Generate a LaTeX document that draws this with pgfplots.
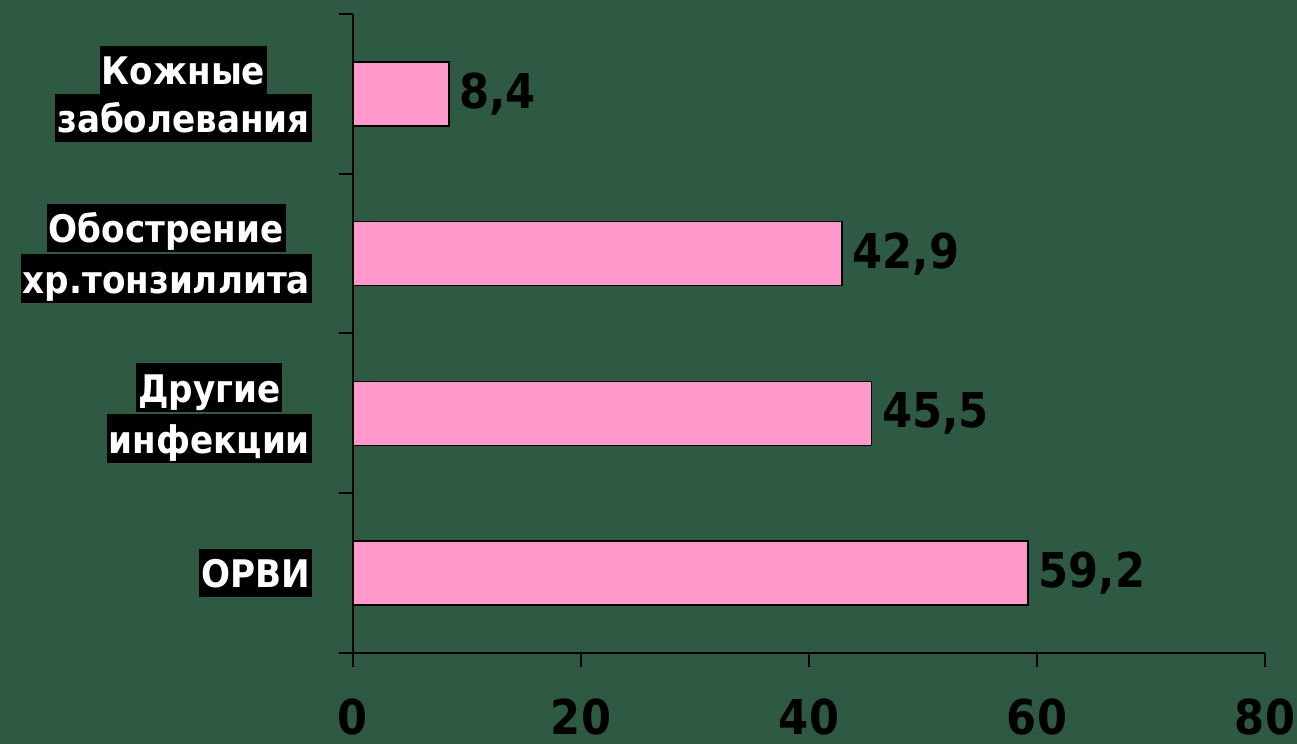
\documentclass[border=0pt]{standalone}
\usepackage{fontspec}
\setmainfont{DejaVu Sans Condensed}
\usepackage{pgfplots}
\pgfplotsset{compat=1.18}
\usetikzlibrary{backgrounds}
\definecolor{bg}{RGB}{46,90,67}
\definecolor{barpink}{RGB}{255,153,204}
\newcommand{\lbl}[1]{{\fboxsep=1pt\colorbox{black}{\rule[-3.5pt]{0pt}{22pt}\textcolor{white}{#1}}}}
\pgfplotstableread{
x y lab
59.2 0 59,2
45.5 1 45,5
42.9 2 42,9
8.4 3 8,4
}\bars
\begin{document}
\begin{tikzpicture}
\begin{axis}[
  name=ax,
  scale only axis,
  width=456pt, height=319.5pt,
  xmin=0, xmax=80, ymin=-0.5, ymax=3.5,
  axis x line*=bottom, axis y line*=left,
  axis line style={black, line width=1pt},
  xtick={0,20,40,60,80},
  ytick={-0.5,0.5,1.5,2.5,3.5},
  yticklabels={{\lbl{ОРВИ}},{\lbl{Другие}\\\lbl{инфекции}},{\lbl{Обострение}\\\lbl{хр.тонзиллита}},{\lbl{Кожные}\\\lbl{заболевания}},{}},
  tick align=outside,
  major tick length=7pt,
  tick style={black, line width=1pt},
  /pgf/number format/assume math mode=true,
  xticklabel style={font=\fontsize{24}{28}\selectfont\bfseries, text=black, inner sep=0pt, yshift=-15.5pt},
  yticklabel style={font=\fontsize{19}{24}\selectfont\bfseries, align=center, yshift=40pt, xshift=-10pt},
  clip=false,
]
\addplot[xbar, fill=barpink, draw=black, line width=0.75pt, bar width=0.4,
  nodes near coords, point meta=explicit symbolic,
  nodes near coords style={font=\fontsize{24}{28}\selectfont\bfseries, text=black, anchor=west, inner sep=5pt}]
  table[x=x, y=y, meta=lab] {\bars};
\end{axis}
\begin{pgfonlayer}{background}
\fill[bg] ([shift={(-176.5pt,-45.5pt)}]ax.south west) rectangle ([shift={(16pt,7pt)}]ax.north east);
\end{pgfonlayer}
\pgfresetboundingbox
\path ([shift={(-176.5pt,-45.5pt)}]ax.south west) rectangle ([shift={(16pt,7pt)}]ax.north east);
\end{tikzpicture}
\end{document}
